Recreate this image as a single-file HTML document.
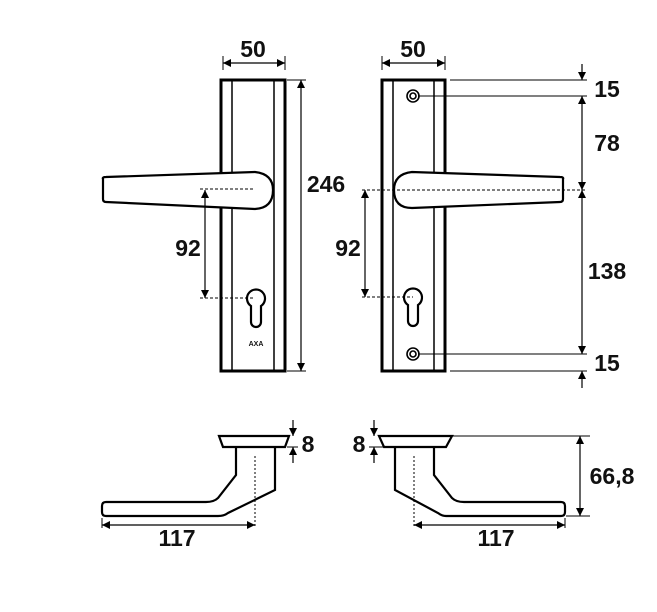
<!DOCTYPE html>
<html><head><meta charset="utf-8"><style>
html,body{margin:0;padding:0;background:#fff}
svg{display:block}
text{font-family:"Liberation Sans",sans-serif;font-weight:bold;fill:#111}
</style></head><body>
<svg width="657" height="612" viewBox="0 0 657 612" xmlns="http://www.w3.org/2000/svg">
<defs>
<marker id="a" viewBox="0 0 10 10" refX="10" refY="5" markerWidth="13" markerHeight="8" orient="auto-start-reverse" markerUnits="userSpaceOnUse"><path d="M0,0L10,5L0,10z" fill="#000"/></marker>
</defs>
<g stroke="#000" fill="none">
<rect x="221" y="80" width="64" height="291" stroke-width="3" fill="#fff"/>
<line x1="232" y1="80" x2="232" y2="371" stroke-width="1.5"/>
<line x1="274" y1="80" x2="274" y2="371" stroke-width="1.5"/>
<path d="M103,179 Q102,177 106,177 L255,172 Q273,174 273,190 Q273,208 255,209 L106,202 Q103,202 103,199 Z" fill="#fff" stroke-width="2.2"/>
<line x1="200" y1="189" x2="253" y2="189" stroke-dasharray="3,2" stroke-width="1"/>
<line x1="200" y1="298" x2="253" y2="298" stroke-dasharray="3,2" stroke-width="1"/>
<path d="M251,306 A9,9 0 1 1 261,306 L261,322 A5,5 0 0 1 251,322 Z" stroke-width="2.2"/>
<line x1="223" y1="56" x2="223" y2="70" stroke-width="1"/>
<line x1="285" y1="56" x2="285" y2="70" stroke-width="1"/>
<line x1="223" y1="63" x2="285" y2="63" stroke-width="1.2" marker-start="url(#a)" marker-end="url(#a)"/>
<line x1="287" y1="80" x2="306" y2="80" stroke-width="1"/>
<line x1="287" y1="371" x2="306" y2="371" stroke-width="1"/>
<line x1="301" y1="80" x2="301" y2="371" stroke-width="1.2" marker-start="url(#a)" marker-end="url(#a)"/>
<line x1="205" y1="190" x2="205" y2="298" stroke-width="1.2" marker-start="url(#a)" marker-end="url(#a)"/>

<rect x="382" y="80" width="63" height="291" stroke-width="3" fill="#fff"/>
<line x1="393" y1="80" x2="393" y2="371" stroke-width="1.5"/>
<line x1="434" y1="80" x2="434" y2="371" stroke-width="1.5"/>
<circle cx="413" cy="96" r="6" stroke-width="1.6"/><circle cx="413" cy="96" r="3" stroke-width="1.6"/>
<circle cx="413" cy="354" r="6" stroke-width="1.6"/><circle cx="413" cy="354" r="3" stroke-width="1.6"/>
<path d="M563,179 Q564,177 560,177 L412,172 Q394,174 394,190 Q394,208 412,208 L560,202 Q563,202 563,199 Z" fill="#fff" stroke-width="2.2"/>
<line x1="362" y1="190" x2="585" y2="190" stroke-dasharray="3,2" stroke-width="1"/>
<line x1="362" y1="297" x2="413" y2="297" stroke-dasharray="3,2" stroke-width="1"/>
<path d="M408,305 A9,9 0 1 1 418,305 L418,321 A5,5 0 0 1 408,321 Z" stroke-width="2.2"/>
<line x1="382" y1="56" x2="382" y2="70" stroke-width="1"/>
<line x1="445" y1="56" x2="445" y2="70" stroke-width="1"/>
<line x1="382" y1="63" x2="445" y2="63" stroke-width="1.2" marker-start="url(#a)" marker-end="url(#a)"/>
<line x1="450" y1="80" x2="587" y2="80" stroke-width="1"/>
<line x1="418" y1="96" x2="587" y2="96" stroke-width="1"/>
<line x1="418" y1="354" x2="587" y2="354" stroke-width="1"/>
<line x1="450" y1="371" x2="587" y2="371" stroke-width="1"/>
<line x1="582" y1="64" x2="582" y2="80" stroke-width="1.2" marker-end="url(#a)"/>
<line x1="582" y1="96" x2="582" y2="190" stroke-width="1.2" marker-start="url(#a)" marker-end="url(#a)"/>
<line x1="582" y1="190" x2="582" y2="354" stroke-width="1.2" marker-start="url(#a)" marker-end="url(#a)"/>
<line x1="582" y1="388" x2="582" y2="371" stroke-width="1.2" marker-end="url(#a)"/>
<line x1="365" y1="190" x2="365" y2="297" stroke-width="1.2" marker-start="url(#a)" marker-end="url(#a)"/>

<path d="M219,436 L289,436 L285,447 L223,447 Z" stroke-width="2.2" fill="#fff"/>
<path d="M236,447 L236,475 L218,498 Q214,502 206,502 L106,502 Q102,502 102,506 L102,512 Q102,516 106,516 L218,516 Q224,516 228,513 L275,490 L275,447" stroke-width="2.2"/>
<line x1="255" y1="456" x2="255" y2="528" stroke-dasharray="2,2" stroke-width="1"/>
<line x1="102" y1="518" x2="102" y2="528" stroke-width="1"/>
<line x1="102" y1="525" x2="255" y2="525" stroke-width="1.2" marker-start="url(#a)" marker-end="url(#a)"/>
<line x1="293" y1="420" x2="293" y2="436" stroke-width="1.2" marker-end="url(#a)"/>
<line x1="293" y1="463" x2="293" y2="447" stroke-width="1.2" marker-end="url(#a)"/>
<line x1="287" y1="447" x2="298" y2="447" stroke-width="1"/>

<path d="M379,436 L452,436 L446,447 L384,447 Z" stroke-width="2.2" fill="#fff"/>
<path d="M434,447 L434,475 L452,498 Q456,502 464,502 L561,502 Q565,502 565,506 L565,512 Q565,516 561,516 L446,516 Q442,516 438,513 L395,490 L395,447" stroke-width="2.2"/>
<line x1="414" y1="456" x2="414" y2="528" stroke-dasharray="2,2" stroke-width="1"/>
<line x1="565" y1="518" x2="565" y2="528" stroke-width="1"/>
<line x1="414" y1="525" x2="565" y2="525" stroke-width="1.2" marker-start="url(#a)" marker-end="url(#a)"/>
<line x1="374" y1="420" x2="374" y2="436" stroke-width="1.2" marker-end="url(#a)"/>
<line x1="374" y1="463" x2="374" y2="447" stroke-width="1.2" marker-end="url(#a)"/>
<line x1="369" y1="447" x2="383" y2="447" stroke-width="1"/>
<line x1="452" y1="436" x2="590" y2="436" stroke-width="1"/>
<line x1="566" y1="516" x2="590" y2="516" stroke-width="1"/>
<line x1="580" y1="436" x2="580" y2="516" stroke-width="1.2" marker-start="url(#a)" marker-end="url(#a)"/>
</g>
<g font-size="23">
<text x="253" y="57" text-anchor="middle">50</text>
<text x="413" y="57" text-anchor="middle">50</text>
<text x="326" y="192" text-anchor="middle">246</text>
<text x="188" y="256" text-anchor="middle">92</text>
<text x="348" y="256" text-anchor="middle">92</text>
<text x="607" y="97" text-anchor="middle">15</text>
<text x="607" y="151" text-anchor="middle">78</text>
<text x="607" y="279" text-anchor="middle">138</text>
<text x="607" y="371" text-anchor="middle">15</text>
<text x="308" y="452" text-anchor="middle">8</text>
<text x="359" y="452" text-anchor="middle">8</text>
<text x="612" y="484" text-anchor="middle">66,8</text>
<text x="177" y="546" text-anchor="middle">117</text>
<text x="496" y="546" text-anchor="middle">117</text>
</g>
<text x="256" y="346" text-anchor="middle" font-size="7">AXA</text>
</svg>
</body></html>
